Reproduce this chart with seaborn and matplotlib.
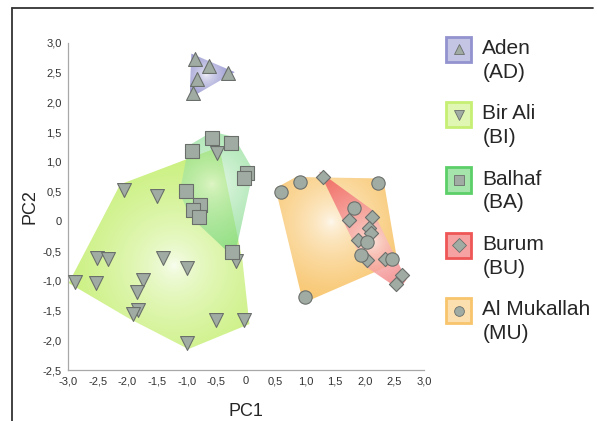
import matplotlib
matplotlib.use("Agg")
import matplotlib.pyplot as plt
import numpy as np
import pandas as pd
import seaborn as sns
from matplotlib.colors import to_rgb
from matplotlib.lines import Line2D
from matplotlib.patches import Polygon, Rectangle
from matplotlib.ticker import FuncFormatter

# sites and their codes, as in the legend
SITES = ["Aden", "Bir Ali", "Balhaf", "Burum", "Al Mukallah"]
CODES = ["AD", "BI", "BA", "BU", "MU"]

# PCA scores
aden_pc1 = [-0.86, -0.62, -0.30, -0.82, -0.89]
aden_pc2 = [2.73, 2.61, 2.50, 2.39, 2.16]

birali_pc1 = [-2.06, -1.50, -2.51, -2.33, -1.40, -0.99, -2.88, -2.53, -1.74,
              -1.84, -1.82, -1.90, -0.50, -0.03, -0.99, -0.17, -0.49]
birali_pc2 = [0.53, 0.43, -0.61, -0.63, -0.61, -0.78, -1.02, -1.03, -0.98,
              -1.18, -1.49, -1.55, -1.66, -1.66, -2.04, -0.66, 1.15]

balhaf_pc1 = [-0.57, -0.25, -0.91, 0.02, -0.03, -1.01, -0.77, -0.89, -0.79, -0.23]
balhaf_pc2 = [1.40, 1.32, 1.18, 0.82, 0.73, 0.51, 0.28, 0.19, 0.08, -0.51]

burum_pc1 = [1.30, 1.74, 2.13, 2.08, 2.11, 1.89, 2.04, 2.35, 2.63, 2.53]
burum_pc2 = [0.75, 0.03, 0.08, -0.11, -0.19, -0.31, -0.65, -0.63, -0.90, -1.05]

mukallah_pc1 = [0.59, 0.91, 2.23, 1.82, 2.04, 1.94, 2.46, 1.00]
mukallah_pc2 = [0.50, 0.66, 0.65, 0.23, -0.34, -0.56, -0.63, -1.27]

SCORES = {
    "Aden": (aden_pc1, aden_pc2),
    "Bir Ali": (birali_pc1, birali_pc2),
    "Balhaf": (balhaf_pc1, balhaf_pc2),
    "Burum": (burum_pc1, burum_pc2),
    "Al Mukallah": (mukallah_pc1, mukallah_pc2),
}

COLORS = {"Aden": "#9393cf", "Bir Ali": "#c6ef74", "Balhaf": "#5ccf68",
          "Burum": "#ef5656", "Al Mukallah": "#f8c56c"}
ALPHAS = {"Aden": 1.0, "Bir Ali": 1.0, "Balhaf": 0.6, "Burum": 0.85, "Al Mukallah": 1.0}
MARKERS = {"Aden": "^", "Bir Ali": "v", "Balhaf": "s", "Burum": "D", "Al Mukallah": "o"}
SIZES = {"Aden": 100, "Bir Ali": 100, "Balhaf": 88, "Burum": 52, "Al Mukallah": 92}
MARKER_FACE = "#a0aca3"
MARKER_EDGE = "#6b6f6c"

df = pd.DataFrame({
    "PC1": sum([SCORES[s][0] for s in SITES], []),
    "PC2": sum([SCORES[s][1] for s in SITES], []),
    "site": sum([[s] * len(SCORES[s][0]) for s in SITES], []),
})


def convex_hull(points):
    pts = sorted(map(tuple, points))

    def cross(o, a, b):
        return (a[0] - o[0]) * (b[1] - o[1]) - (a[1] - o[1]) * (b[0] - o[0])

    lower, upper = [], []
    for p in pts:
        while len(lower) >= 2 and cross(lower[-2], lower[-1], p) <= 0:
            lower.pop()
        lower.append(p)
    for p in reversed(pts):
        while len(upper) >= 2 and cross(upper[-2], upper[-1], p) <= 0:
            upper.pop()
        upper.append(p)
    return np.array(lower[:-1] + upper[:-1])


def shaded_hull(ax, sub, color, alpha, pad=0.11):
    pts = sub[["PC1", "PC2"]].to_numpy()
    hull = convex_hull(pts)
    c = hull.mean(axis=0)
    v = hull - c
    hull = hull + v / np.hypot(v[:, 0], v[:, 1])[:, None] * pad
    poly = Polygon(hull, closed=True, facecolor="none", edgecolor="none",
                   transform=ax.transData)
    ax.add_patch(poly)
    x0, y0 = hull.min(axis=0)
    x1, y1 = hull.max(axis=0)
    gx, gy = np.meshgrid(np.linspace(x0, x1, 200), np.linspace(y0, y1, 200))
    r = np.hypot(hull[:, 0] - c[0], hull[:, 1] - c[1]).max()
    t = np.clip(np.hypot(gx - c[0], gy - c[1]) / r, 0, 1) ** 0.6
    t = 0.08 + 0.92 * t
    rgb = to_rgb(color)
    img = np.ones((200, 200, 4))
    for k in range(3):
        img[..., k] = 1 - t * (1 - rgb[k])
    img[..., 3] = alpha
    im = ax.imshow(img, extent=(x0, x1, y0, y1), origin="lower", aspect="auto",
                   interpolation="bilinear", zorder=1)
    im.set_clip_path(poly)


class TopSquareHandler:
    """Legend key: a coloured square next to the first text line, marker inside."""

    def __init__(self, side, drop):
        self.side = side  # points
        self.drop = drop  # points below the top of the handle box

    def legend_artist(self, legend, orig_handle, fontsize, handlebox):
        color, marker = orig_handle
        x0, y0 = -handlebox.xdescent, -handlebox.ydescent
        top = y0 + handlebox.height - self.drop
        s = self.side
        face = tuple(0.55 * np.array(to_rgb(color)) + 0.45)
        rect = Rectangle((x0 + 0.7, top - s + 0.7), s - 1.4, s - 1.4, facecolor=face,
                         edgecolor=color, linewidth=2,
                         transform=handlebox.get_transform())
        mk = Line2D([x0 + s / 2], [top - s / 2], linestyle="none", marker=marker,
                    markersize=7, markerfacecolor=MARKER_FACE,
                    markeredgecolor=MARKER_EDGE, markeredgewidth=0.6,
                    transform=handlebox.get_transform())
        handlebox.add_artist(rect)
        handlebox.add_artist(mk)
        return rect


sns.set_style("white")
plt.rcParams["font.family"] = ["Liberation Sans", "DejaVu Sans"]

fig = plt.figure(figsize=(5.97, 4.21), dpi=100)
ax = fig.add_axes([68 / 597, 1 - 370 / 421, 356 / 597, 327 / 421])

for site in ["Bir Ali", "Balhaf", "Al Mukallah", "Burum", "Aden"]:
    shaded_hull(ax, df[df.site == site], COLORS[site], ALPHAS[site])

for site in ["Aden", "Bir Ali", "Balhaf", "Burum", "Al Mukallah"]:
    sns.scatterplot(data=df[df.site == site], x="PC1", y="PC2", ax=ax,
                    marker=MARKERS[site], s=SIZES[site], color=MARKER_FACE,
                    edgecolor=MARKER_EDGE, linewidth=0.8, zorder=3, legend=False)

ax.set_xlim(-3, 3)
ax.set_ylim(-2.5, 3)
ax.set_xticks(np.arange(-3, 3.01, 0.5))
ax.set_yticks(np.arange(-2.5, 3.01, 0.5))
fmt = FuncFormatter(lambda v, p: "0" if abs(v) < 1e-9 else f"{v:.1f}".replace(".", ","))
ax.xaxis.set_major_formatter(fmt)
ax.yaxis.set_major_formatter(fmt)
ax.tick_params(direction="inout", length=5, width=0.8, color="#a0a0a0",
               labelsize=8, labelcolor="#333333", pad=2)
sns.despine(ax=ax)
for side in ["left", "bottom"]:
    ax.spines[side].set_color("#a8a8a8")
    ax.spines[side].set_linewidth(0.9)
ax.set_xlabel("PC1", fontsize=13, labelpad=12)
ax.set_ylabel("PC2", fontsize=13, labelpad=3)

legend_fs = 15
em = legend_fs * 100 / 72
handles = [(COLORS[s], MARKERS[s]) for s in SITES]
labels = [f"{s}\n({c})" for s, c in zip(SITES, CODES)]
leg = fig.legend(handles, labels, loc="upper left", bbox_to_anchor=(445 / 597, 1 - 39 / 421),
                 frameon=False, fontsize=legend_fs, handlelength=27 / em, handleheight=2.05,
                 handletextpad=0.5, labelspacing=1.08, borderpad=0, borderaxespad=0,
                 handler_map={tuple: TopSquareHandler(27 * 0.72, -9 * 0.72)})
for t in leg.get_texts():
    t.set_linespacing(1.32)

# border lines of the original frame
fig.add_artist(Line2D([12 / 597, 12 / 597], [0, 1 - 8 / 421], color="#333333", lw=1.3))
fig.add_artist(Line2D([12 / 597, 593 / 597], [1 - 8 / 421, 1 - 8 / 421], color="#333333", lw=1.3))

fig.savefig("out.png", dpi=100)
